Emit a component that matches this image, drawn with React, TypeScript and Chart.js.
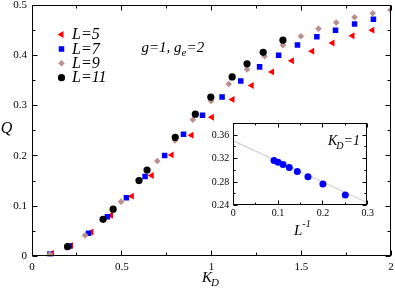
import React, { useEffect, useRef } from "react";
import { Chart, registerables } from "chart.js";
Chart.register(...registerables);

// ---------- main panel data ----------
const L5_K = [0.111, 0.218, 0.331, 0.44, 0.556, 0.667, 0.778, 0.889, 1.002, 1.117, 1.224, 1.337, 1.448, 1.561, 1.674, 1.785, 1.896];
const L5_Q = [0.006, 0.022, 0.0487, 0.082, 0.12, 0.161, 0.202, 0.241, 0.277, 0.312, 0.34, 0.367, 0.389, 0.408, 0.4245, 0.439, 0.45];
const L7_K = [0.1, 0.207, 0.315, 0.42, 0.526, 0.63, 0.739, 0.844, 0.95, 1.059, 1.163, 1.268, 1.374, 1.479, 1.587, 1.691, 1.797, 1.902];
const L7_Q = [0.005, 0.021, 0.046, 0.079, 0.117, 0.159, 0.201, 0.243, 0.281, 0.317, 0.349, 0.377, 0.4, 0.4205, 0.437, 0.45, 0.462, 0.4716];
const L9_K = [0.1, 0.296, 0.496, 0.698, 0.797, 0.896, 0.998, 1.096, 1.198, 1.296, 1.398, 1.498, 1.596, 1.695, 1.797, 1.898, 1.998];
const L9_Q = [0.005, 0.042, 0.109, 0.19, 0.2305, 0.272, 0.309, 0.343, 0.372, 0.398, 0.42, 0.438, 0.453, 0.465, 0.4755, 0.4835, 0.49];
const L11_K = [0.198, 0.396, 0.452, 0.596, 0.641, 0.798, 0.91, 0.996, 1.115, 1.198, 1.288, 1.398];
const L11_Q = [0.0195, 0.074, 0.094, 0.151, 0.172, 0.237, 0.283, 0.317, 0.357, 0.383, 0.406, 0.43];

const SERIES_LABELS = ["L=5", "L=7", "L=9", "L=11"];
const X_TICKS = [0, 0.5, 1, 1.5, 2];
const X_MINOR = [0.25, 0.75, 1.25, 1.75];
const Y_TICKS = [0, 0.1, 0.2, 0.3, 0.4, 0.5];
const Y_MINOR = [0.05, 0.15, 0.25, 0.35, 0.45];

// ---------- inset data ----------
const INV_L = [0.0909, 0.1, 0.1111, 0.125, 0.1429, 0.1667, 0.2, 0.25];
const INSET_Q = [0.317, 0.314, 0.31, 0.305, 0.298, 0.289, 0.277, 0.258];
const FIT_X = [0, 0.3];
const FIT_Q = [0.35, 0.245];
const IX_TICKS = [0, 0.1, 0.2, 0.3];
const IX_MINOR = [0.05, 0.15, 0.25];
const IY_TICKS = [0.24, 0.28, 0.32, 0.36];
const IY_MINOR = [0.26, 0.3, 0.34];

const SERIF = '"Liberation Serif", "DejaVu Serif", "Times New Roman", serif';
const ROSY = "#bc8f8f";

const pts = (xs: number[], ys: number[]) => xs.map((x, i) => ({ x, y: ys[i] }));
const c = (p: number) => Math.floor(p) + 0.5;

function drawMarker(ctx: CanvasRenderingContext2D, style: string, x: number, y: number, r: number, color: string) {
  ctx.save();
  ctx.fillStyle = color;
  ctx.beginPath();
  if (style === "circle") {
    ctx.arc(x, y, r, 0, Math.PI * 2);
  } else if (style === "rect") {
    const s = r * Math.SQRT1_2;
    ctx.rect(x - s, y - s, 2 * s, 2 * s);
  } else if (style === "rectRot") {
    const s = r;
    ctx.moveTo(x - s, y);
    ctx.lineTo(x, y - s);
    ctx.lineTo(x + s, y);
    ctx.lineTo(x, y + s);
    ctx.closePath();
  } else {
    ctx.moveTo(x - r, y);
    ctx.lineTo(x + r / 2, y - r * 0.866);
    ctx.lineTo(x + r / 2, y + r * 0.866);
    ctx.closePath();
  }
  ctx.fill();
  ctx.restore();
}

function frameTicks(xMaj: number[], xMin: number[], yMaj: number[], yMin: number[], maj: number, min: number) {
  return {
    id: "frameTicks",
    afterDatasetsDraw(chart: any) {
      const { ctx, chartArea: a, scales } = chart;
      const xs = scales.x, ys = scales.y;
      const L = c(a.left), R = c(a.right - 1), T = c(a.top), B = c(a.bottom - 1);
      ctx.save();
      ctx.strokeStyle = "#000";
      ctx.lineWidth = 1;
      ctx.strokeRect(L, T, R - L, B - T);
      ctx.beginPath();
      const vx = (vals: number[], len: number) => vals.forEach((v) => {
        const p = c(xs.getPixelForValue(v));
        ctx.moveTo(p, B); ctx.lineTo(p, B - len);
        ctx.moveTo(p, T); ctx.lineTo(p, T + len);
      });
      const vy = (vals: number[], len: number) => vals.forEach((v) => {
        const p = c(ys.getPixelForValue(v));
        ctx.moveTo(L, p); ctx.lineTo(L + len, p);
        ctx.moveTo(R, p); ctx.lineTo(R - len, p);
      });
      vx(xMaj, maj); vx(xMin, min); vy(yMaj, maj); vy(yMin, min);
      ctx.stroke();
      ctx.restore();
    },
  };
}

const fmt1 = (v: any) => (Number(v) === 0 ? "0" : String(Number(Number(v).toFixed(2))));
const fmtY = (v: any) => (Number(v) === 0 ? "0" : Number(v).toFixed(1));

const MARKERS = [
  { style: "triangle", color: "#ff0000", r: 4 },
  { style: "rect", color: "#0000ff", r: 3.9 },
  { style: "rectRot", color: ROSY, r: 3.3 },
  { style: "circle", color: "#000000", r: 3.6 },
];

const mainAnnotations = {
  id: "mainAnnotations",
  afterDraw(chart: any) {
    const ctx = chart.ctx as CanvasRenderingContext2D;
    ctx.save();
    ctx.fillStyle = "#000";
    // legend
    const rows = [34.5, 49, 63.3, 77.7];
    SERIES_LABELS.forEach((lab, i) => {
      const m = MARKERS[i];
      drawMarker(ctx, m.style, 61.5, rows[i], m.r, m.color);
      ctx.font = `italic 16px ${SERIF}`;
      ctx.textBaseline = "middle";
      ctx.textAlign = "left";
      ctx.fillStyle = "#000";
      ctx.fillText(lab, 72, rows[i] + 0.5);
    });
    // g=1, g_e=2
    ctx.textBaseline = "alphabetic";
    ctx.font = `italic 15px ${SERIF}`;
    let x = 141.5;
    const s1 = "g=1, g";
    ctx.fillText(s1, x, 51.5);
    x += ctx.measureText(s1).width;
    ctx.font = `italic 11px ${SERIF}`;
    ctx.fillText("e", x, 56);
    x += ctx.measureText("e").width;
    ctx.font = `italic 15px ${SERIF}`;
    ctx.fillText("=2", x, 51.5);
    // axis titles
    ctx.font = `italic 16px ${SERIF}`;
    ctx.textAlign = "center";
    ctx.textBaseline = "middle";
    ctx.fillText("Q", 6.5, 129);
    ctx.textAlign = "left";
    ctx.textBaseline = "alphabetic";
    ctx.font = `italic 15px ${SERIF}`;
    ctx.fillText("K", 202, 281.5);
    const kw = ctx.measureText("K").width;
    ctx.font = `italic 11px ${SERIF}`;
    ctx.fillText("D", 202 + kw - 1, 286);
    ctx.restore();
  },
};

const insetAnnotations = {
  id: "insetAnnotations",
  beforeDraw(chart: any) {
    const { ctx, chartArea: a } = chart;
    ctx.save();
    ctx.fillStyle = "#fff";
    ctx.fillRect(a.left, a.top, a.right - a.left, a.bottom - a.top);
    ctx.restore();
  },
  afterDraw(chart: any) {
    const ctx = chart.ctx as CanvasRenderingContext2D;
    ctx.save();
    ctx.fillStyle = "#000";
    ctx.textAlign = "left";
    ctx.textBaseline = "alphabetic";
    // K_D=1
    let x = 133;
    ctx.font = `italic 14px ${SERIF}`;
    ctx.fillText("K", x, 30);
    x += ctx.measureText("K").width - 1;
    ctx.font = `italic 10px ${SERIF}`;
    ctx.fillText("D", x, 34);
    x += ctx.measureText("D").width;
    ctx.font = `italic 14px ${SERIF}`;
    ctx.fillText("=1", x, 30);
    // L^-1
    x = 99;
    ctx.font = `italic 15px ${SERIF}`;
    ctx.fillText("L", x, 120);
    x += ctx.measureText("L").width;
    ctx.font = `italic 10px ${SERIF}`;
    ctx.fillText("-1", x, 112);
    ctx.restore();
  },
};

function MainChart() {
  const ref = useRef<HTMLCanvasElement>(null);
  useEffect(() => {
    const series = [
      { k: L5_K, q: L5_Q },
      { k: L7_K, q: L7_Q },
      { k: L9_K, q: L9_Q },
      { k: L11_K, q: L11_Q },
    ];
    const chart = new Chart(ref.current!, {
      type: "scatter",
      data: {
        datasets: series.map((s, i) => ({
          label: SERIES_LABELS[i],
          data: pts(s.k, s.q),
          pointStyle: MARKERS[i].style,
          rotation: MARKERS[i].style === "triangle" ? -90 : 0,
          pointRadius: MARKERS[i].r,
          backgroundColor: MARKERS[i].color,
          borderColor: MARKERS[i].color,
          borderWidth: 0,
          order: 3 - i,
          clip: 0,
        })) as any,
      },
      options: {
        animation: false,
        responsive: false,
        maintainAspectRatio: false,
        events: [],
        layout: { padding: { left: 0, right: 3, top: 5, bottom: 0 } },
        plugins: { legend: { display: false }, tooltip: { enabled: false } },
        scales: {
          x: {
            type: "linear",
            min: 0,
            max: 2,
            grid: { display: false, drawTicks: false },
            border: { display: false },
            afterBuildTicks: (s: any) => { s.ticks = X_TICKS.map((v) => ({ value: v })); },
            afterFit: (s: any) => { s.height = 32.5; s.paddingLeft = 0; s.paddingRight = 0; },
            ticks: { font: { family: SERIF, size: 11 }, color: "#000", padding: 4, maxRotation: 0, autoSkip: false, callback: fmt1 },
          },
          y: {
            type: "linear",
            min: 0,
            max: 0.5,
            grid: { display: false, drawTicks: false },
            border: { display: false },
            afterBuildTicks: (s: any) => { s.ticks = Y_TICKS.map((v) => ({ value: v })); },
            afterFit: (s: any) => { s.width = 32; s.paddingTop = 0; s.paddingBottom = 0; },
            ticks: { font: { family: SERIF, size: 11 }, color: "#000", padding: 5, autoSkip: false, callback: fmtY },
          },
        },
      } as any,
      plugins: [frameTicks(X_TICKS, X_MINOR, Y_TICKS, Y_MINOR, 5, 3), mainAnnotations],
    });
    return () => chart.destroy();
  }, []);
  return <canvas ref={ref} width={395} height={289} style={{ position: "absolute", left: 0, top: 0, width: 395, height: 289 }} />;
}

function InsetChart() {
  const ref = useRef<HTMLCanvasElement>(null);
  useEffect(() => {
    const chart = new Chart(ref.current!, {
      type: "scatter",
      data: {
        datasets: [
          {
            label: "K_D=1",
            data: pts(INV_L, INSET_Q),
            pointStyle: "circle",
            pointRadius: 3.5,
            backgroundColor: "#0000ff",
            borderColor: "#0000ff",
            borderWidth: 0,
            clip: 0,
          },
          {
            label: "fit",
            data: pts(FIT_X, FIT_Q),
            showLine: true,
            pointRadius: 0,
            borderColor: "#d4d4d4",
            borderWidth: 1.3,
            clip: 0,
          },
        ] as any,
      },
      options: {
        animation: false,
        responsive: false,
        maintainAspectRatio: false,
        events: [],
        layout: { padding: { left: 0, right: 12.3, top: 8.3, bottom: 0 } },
        plugins: { legend: { display: false }, tooltip: { enabled: false } },
        scales: {
          x: {
            type: "linear",
            min: 0,
            max: 0.3,
            grid: { display: false, drawTicks: false },
            border: { display: false },
            afterBuildTicks: (s: any) => { s.ticks = IX_TICKS.map((v) => ({ value: v })); },
            afterFit: (s: any) => { s.height = 34.3; s.paddingLeft = 0; s.paddingRight = 0; },
            ticks: { font: { family: SERIF, size: 10 }, color: "#000", padding: 2, maxRotation: 0, autoSkip: false, callback: fmt1 },
          },
          y: {
            type: "linear",
            min: 0.24,
            max: 0.38,
            grid: { display: false, drawTicks: false },
            border: { display: false },
            afterBuildTicks: (s: any) => { s.ticks = IY_TICKS.map((v) => ({ value: v })); },
            afterFit: (s: any) => { s.width = 38.3; s.paddingTop = 0; s.paddingBottom = 0; },
            ticks: { font: { family: SERIF, size: 10 }, color: "#000", padding: 4, autoSkip: false, callback: (v: any) => Number(v).toFixed(2) },
          },
        },
      } as any,
      plugins: [frameTicks(IX_TICKS, IX_MINOR, IY_TICKS, IY_MINOR, 4, 2), insetAnnotations],
    });
    return () => chart.destroy();
  }, []);
  return <canvas ref={ref} width={185} height={125} style={{ position: "absolute", left: 195, top: 115, width: 185, height: 125 }} />;
}

export default function App() {
  useEffect(() => {
    document.body.style.margin = "0";
  }, []);
  return (
    <div style={{ position: "relative", width: 395, height: 289, background: "#fff", overflow: "hidden" }}>
      <MainChart />
      <InsetChart />
    </div>
  );
}
